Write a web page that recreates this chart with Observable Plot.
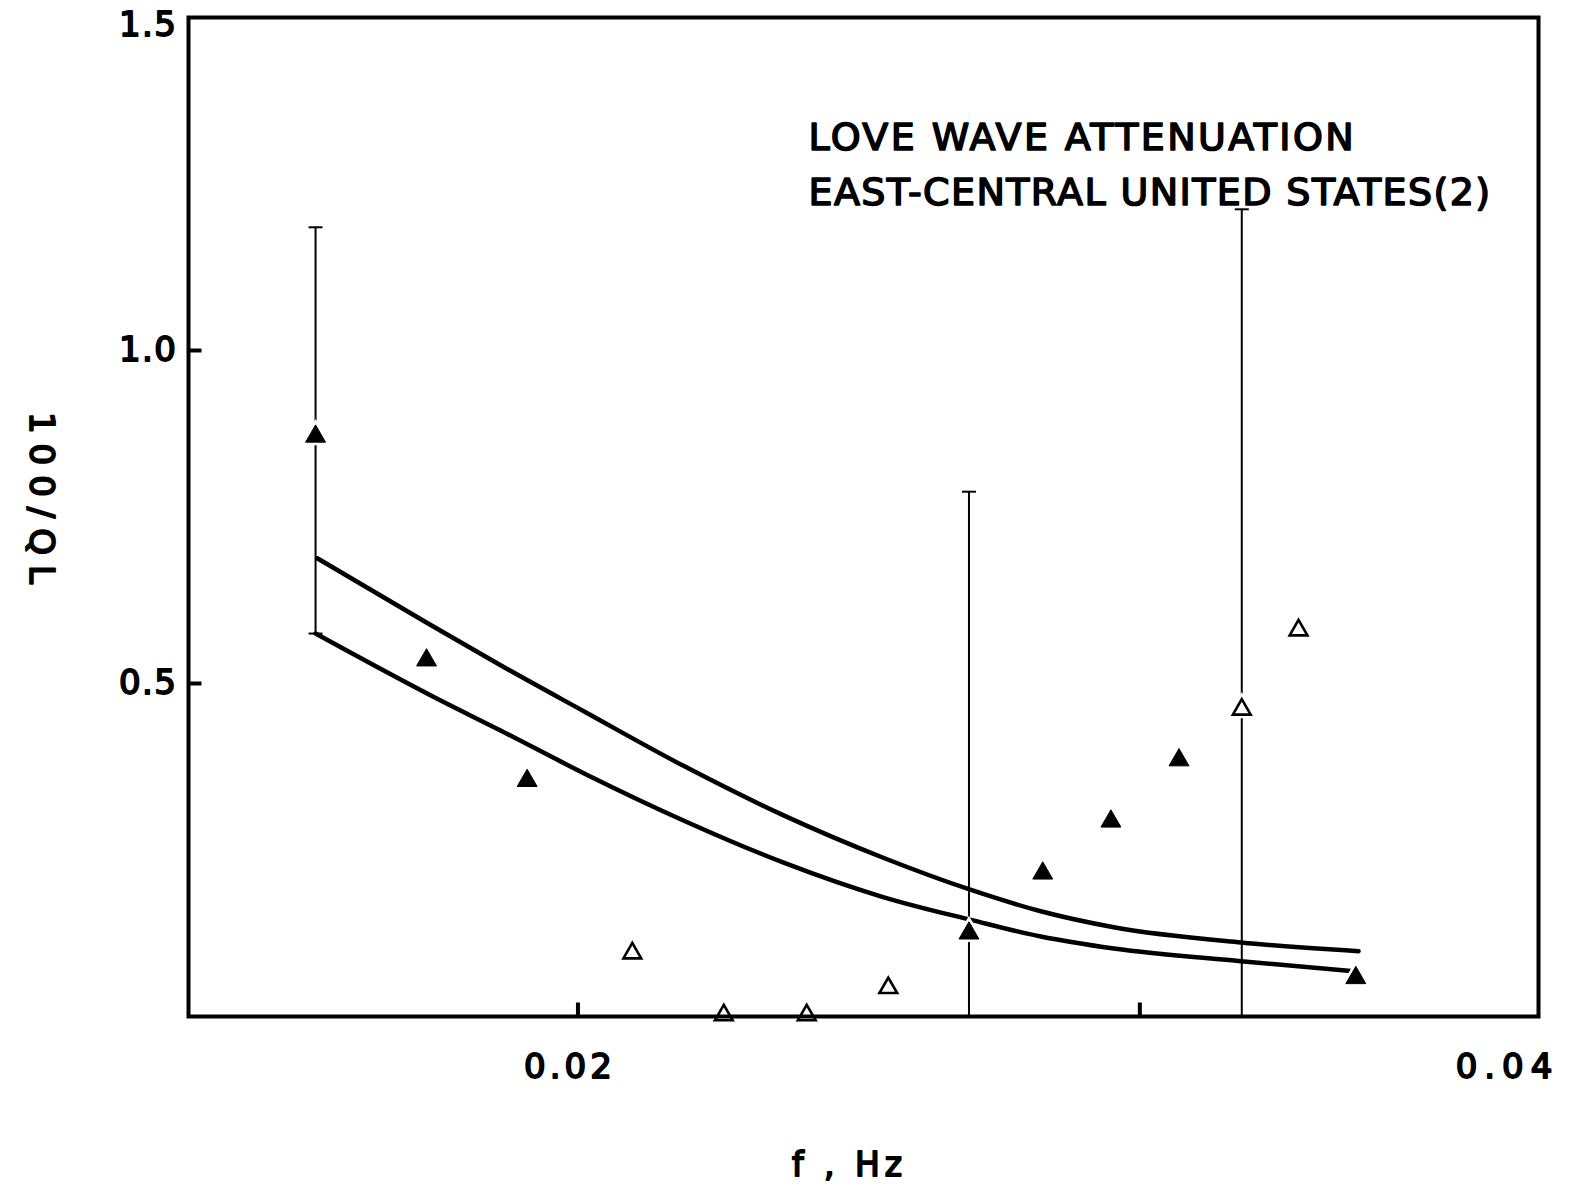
<!DOCTYPE html>
<html>
<head>
<meta charset="utf-8">
<script src="https://cdn.jsdelivr.net/npm/d3@7"></script>
<script src="https://cdn.jsdelivr.net/npm/@observablehq/plot@0.6"></script>
<style>
  html, body { margin: 0; padding: 0; background: #fff; }
  #chart svg { display: block; }
</style>
</head>
<body>
<div id="chart"></div>
<script>
// Love wave attenuation (100/QL) against frequency, east-central United States

// Model band: upper and lower bounding curves
const upperCurveF = [0.01657, 0.01795, 0.01892, 0.02009, 0.02159, 0.02320, 0.02494, 0.02656, 0.02793, 0.02944, 0.03227, 0.03513];
const upperCurveQ = [0.688, 0.590, 0.527, 0.458, 0.376, 0.302, 0.238, 0.190, 0.158, 0.134, 0.111, 0.098];
const lowerCurveF = [0.01655, 0.01812, 0.01892, 0.02009, 0.02159, 0.02320, 0.02494, 0.02656, 0.02793, 0.02944, 0.03227, 0.03501];
const lowerCurveQ = [0.575, 0.474, 0.429, 0.365, 0.294, 0.231, 0.179, 0.145, 0.120, 0.102, 0.083, 0.068];

// Observed values: filled and open triangles
const filledF = [0.01655, 0.01793, 0.01928, 0.02652, 0.02797, 0.02938, 0.03086, 0.03506];
const filledQ = [0.871, 0.535, 0.354, 0.125, 0.215, 0.293, 0.385, 0.058];
const openF = [0.02080, 0.02222, 0.02359, 0.02502, 0.03229, 0.03364];
const openQ = [0.095, 0.002, 0.002, 0.043, 0.461, 0.580];

// Error bars
const errF = [0.01655, 0.02652, 0.03229];
const errLow = [0.575, 0, 0];
const errHigh = [1.185, 0.788, 1.212];
const errLowCap = [true, false, false];

// Axis ticks and labels
const yTicks = [0.5, 1.0];
const yTickLabels = [0.5, 1.0];
const yTopLabel = [1.5];
const xTicks = [0.02, 0.03];
const xTickLabelA = [0.02];
const xTickLabelB = [0.04];

const titleLines = ["LOVE WAVE ATTENUATION", "EAST-CENTRAL UNITED STATES(2)"];
const xLabel = "f , Hz";
const yLabel = "100/QL";

const toRows = (fs, qs) => fs.map((f, i) => ({f, q: qs[i]}));
const upperRows = toRows(upperCurveF, upperCurveQ);
const lowerRows = toRows(lowerCurveF, lowerCurveQ);
const filledRows = toRows(filledF, filledQ);
const openRows = toRows(openF, openQ);
const errRows = errF.map((f, i) => ({f, lo: errLow[i], hi: errHigh[i], loCap: errLowCap[i]}));

// Custom marker shapes: error-bar caps and inward axis ticks
const capSymbol = {draw(ctx) { ctx.moveTo(-7, 0); ctx.lineTo(7, 0); }};
const tickRight = {draw(ctx) { ctx.moveTo(0, 0); ctx.lineTo(13, 0); }};
const tickUp = {draw(ctx) { ctx.moveTo(0, 0); ctx.lineTo(0, -14); }};

// lettering: book weight thickened with a thin outline
const ink = {fill: "#000", stroke: "#000", lineAnchor: "middle"};

const chart = Plot.plot({
  width: 1570,
  height: 1192,
  marginLeft: 188,
  marginRight: 32,
  marginTop: 17,
  marginBottom: 176,
  style: {fontFamily: "DejaVu Sans", background: "#fff", color: "#000"},
  x: {type: "log", domain: [0.0151, 0.04], axis: null},
  y: {domain: [0, 1.5], axis: null},
  marks: [
    // error bars
    Plot.ruleX(errRows, {x: "f", y1: "lo", y2: "hi", stroke: "#000", strokeWidth: 2}),
    Plot.dot(errRows, {x: "f", y: "hi", symbol: capSymbol, r: 5, fill: "none", stroke: "#000", strokeWidth: 2}),
    Plot.dot(errRows.filter(d => d.loCap), {x: "f", y: "lo", symbol: capSymbol, r: 5, fill: "none", stroke: "#000", strokeWidth: 2}),
    // model band
    Plot.line(upperRows, {x: "f", y: "q", curve: "monotone-x", stroke: "#000", strokeWidth: 4.5}),
    Plot.line(lowerRows, {x: "f", y: "q", curve: "monotone-x", stroke: "#000", strokeWidth: 4.5}),
    // white halo behind markers
    Plot.dot(filledRows.concat(openRows), {x: "f", y: "q", symbol: "triangle", r: 7.4, fill: "#fff", stroke: "#fff", strokeWidth: 6}),
    // observations
    Plot.dot(filledRows, {x: "f", y: "q", symbol: "triangle", r: 7.4, fill: "#000", stroke: "#000", strokeWidth: 1}),
    Plot.dot(openRows, {x: "f", y: "q", symbol: "triangle", r: 6.6, fill: "#fff", stroke: "#000", strokeWidth: 2.6}),
    // inward ticks
    Plot.dot(yTicks, {y: d => d, frameAnchor: "left", symbol: tickRight, r: 5, fill: "none", stroke: "#000", strokeWidth: 4}),
    Plot.dot(xTicks, {x: d => d, frameAnchor: "bottom", symbol: tickUp, r: 5, fill: "none", stroke: "#000", strokeWidth: 4}),
    // frame
    Plot.frame({stroke: "#000", strokeWidth: 4}),
    // tick labels
    Plot.text(yTickLabels, {...ink, y: d => d, text: d => d.toFixed(1), frameAnchor: "left", textAnchor: "end", dx: -11, fontSize: 34, strokeWidth: 1.8}),
    Plot.text(yTopLabel, {...ink, y: d => d, text: d => d.toFixed(1), frameAnchor: "left", textAnchor: "end", dx: -11, dy: 8, fontSize: 34, strokeWidth: 1.8}),
    Plot.text(xTickLabelA, {...ink, x: d => d, text: d => d.toFixed(2), frameAnchor: "bottom", textAnchor: "middle", dy: 51, dx: -8, fontSize: 34, strokeWidth: 1.8}),
    Plot.text(xTickLabelB, {...ink, x: d => d, text: d => d.toFixed(2), frameAnchor: "bottom", textAnchor: "middle", dy: 51, dx: -31, fontSize: 34, strokeWidth: 1.8}),
    // axis titles
    Plot.text([xLabel], {...ink, frameAnchor: "bottom", textAnchor: "middle", dx: -14, dy: 149, fontSize: 33, strokeWidth: 1.8}),
    Plot.text([yLabel], {...ink, frameAnchor: "left", textAnchor: "middle", rotate: 90, dx: -148, dy: -14, fontSize: 34, strokeWidth: 1.8}),
    // figure title inside the frame
    Plot.text([titleLines[0]], {...ink, frameAnchor: "top-left", textAnchor: "start", dx: 620, dy: 120, fontSize: 38, strokeWidth: 1.6}),
    Plot.text([titleLines[1]], {...ink, frameAnchor: "top-left", textAnchor: "start", dx: 620, dy: 175, fontSize: 38, strokeWidth: 1.6})
  ]
});

// letter spacing of the lettered labels, keyed by their text
const spacingByText = new Map([
  [titleLines[0], 2.4], [titleLines[1], 1.4],
  [xLabel, 5], [yLabel, 10],
  ["0.02", 4], ["0.04", 7], ["0.5", 1.5], ["1.0", 1.5], ["1.5", 1.5]
]);
d3.select(chart).selectAll("text").each(function() {
  const s = spacingByText.get(this.textContent);
  if (s != null) {
    this.setAttribute("letter-spacing", `${s}px`);
    this.style.letterSpacing = `${s}px`;
  }
});

document.getElementById("chart").appendChild(chart);
</script>
</body>
</html>
